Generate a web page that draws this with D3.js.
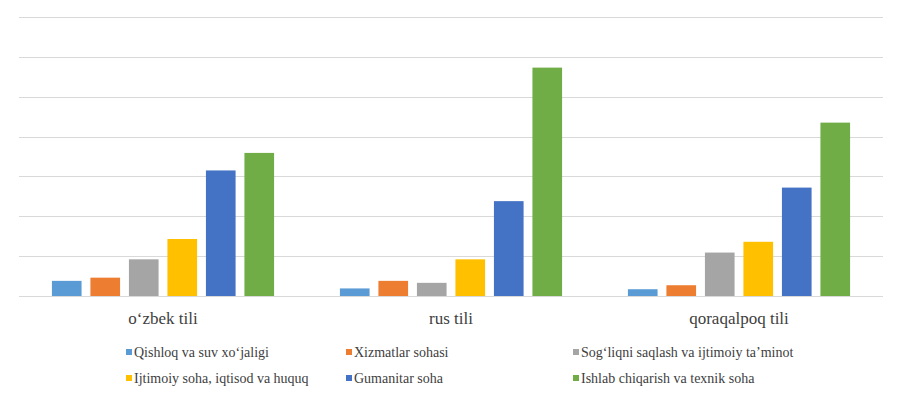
<!DOCTYPE html>
<html>
<head>
<meta charset="utf-8">
<script src="https://cdn.jsdelivr.net/npm/d3@7"></script>
<style>
  body { margin: 0; background: #fff; }
</style>
</head>
<body>
<script>
// chart data
const groups = ["o‘zbek tili", "rus tili", "qoraqalpoq tili"]
const series = ["Qishloq va suv xo‘jaligi", "Xizmatlar sohasi", "Sog‘liqni saqlash va ijtimoiy ta’minot",
                "Ijtimoiy soha, iqtisod va huquq", "Gumanitar soha", "Ishlab chiqarish va texnik soha"]
const colors = ["#5B9BD5", "#ED7D31", "#A5A5A5", "#FFC000", "#4472C4", "#70AD47"]
// one array per language group, in series order
const uzbek = [0.38, 0.46, 0.92, 1.43, 3.15, 3.59]
const russian = [0.19, 0.38, 0.33, 0.92, 2.38, 5.73]
const karakalpak = [0.17, 0.27, 1.09, 1.36, 2.72, 4.35]
const values = [uzbek, russian, karakalpak]
const gridTicks = [0, 1, 2, 3, 4, 5, 6, 7]

const width = 900, height = 394
const margin = {top: 17, right: 17, bottom: 98, left: 19}
const font = "Liberation Serif, DejaVu Serif, serif"

const svg = d3.select("body").append("svg").attr("width", width).attr("height", height)

const x0 = d3.scaleBand().domain(groups).range([margin.left, width - margin.right]).padding(0)
const x1 = d3.scaleBand().domain(series).range([0, x0.bandwidth()]).paddingInner(0.23).paddingOuter(0.855)
const y = d3.scaleLinear().domain([0, 7]).range([height - margin.bottom, margin.top])

// gridlines
svg.append("g").selectAll("line").data(gridTicks).enter().append("line")
  .attr("x1", margin.left).attr("x2", width - margin.right)
  .attr("y1", d => Math.round(y(d)) + 0.5).attr("y2", d => Math.round(y(d)) + 0.5)
  .attr("stroke", "#d9d9d9").attr("stroke-width", 1)

// bars
const g = svg.append("g").selectAll("g").data(groups).enter().append("g")
  .attr("transform", d => `translate(${x0(d)},0)`)
g.selectAll("rect").data((d, i) => values[i].map((v, j) => ({s: series[j], v: v, c: colors[j]})))
  .enter().append("rect")
  .attr("x", d => x1(d.s))
  .attr("width", x1.bandwidth())
  .attr("y", d => y(d.v))
  .attr("height", d => y(0) - y(d.v))
  .attr("fill", d => d.c)

// category labels
svg.append("g").selectAll("text").data(groups).enter().append("text")
  .attr("x", d => x0(d) + x0.bandwidth() / 2)
  .attr("y", 324)
  .attr("text-anchor", "middle")
  .style("font-family", font)
  .attr("font-size", 17)
  .attr("fill", "#404040")
  .text(d => d)

// legend
const legX = [126, 346, 573]
const legY = [352, 378]
const leg = svg.append("g").selectAll("g").data(series).enter().append("g")
  .attr("transform", (d, i) => `translate(${legX[i % 3]},${legY[Math.floor(i / 3)]})`)
leg.append("rect").attr("x", 0).attr("y", -3).attr("width", 6).attr("height", 6)
  .attr("fill", (d, i) => colors[i])
leg.append("text").attr("x", 8).attr("y", 5)
  .style("font-family", font).attr("font-size", 14).attr("fill", "#404040")
  .text(d => d)
</script>
</body>
</html>
